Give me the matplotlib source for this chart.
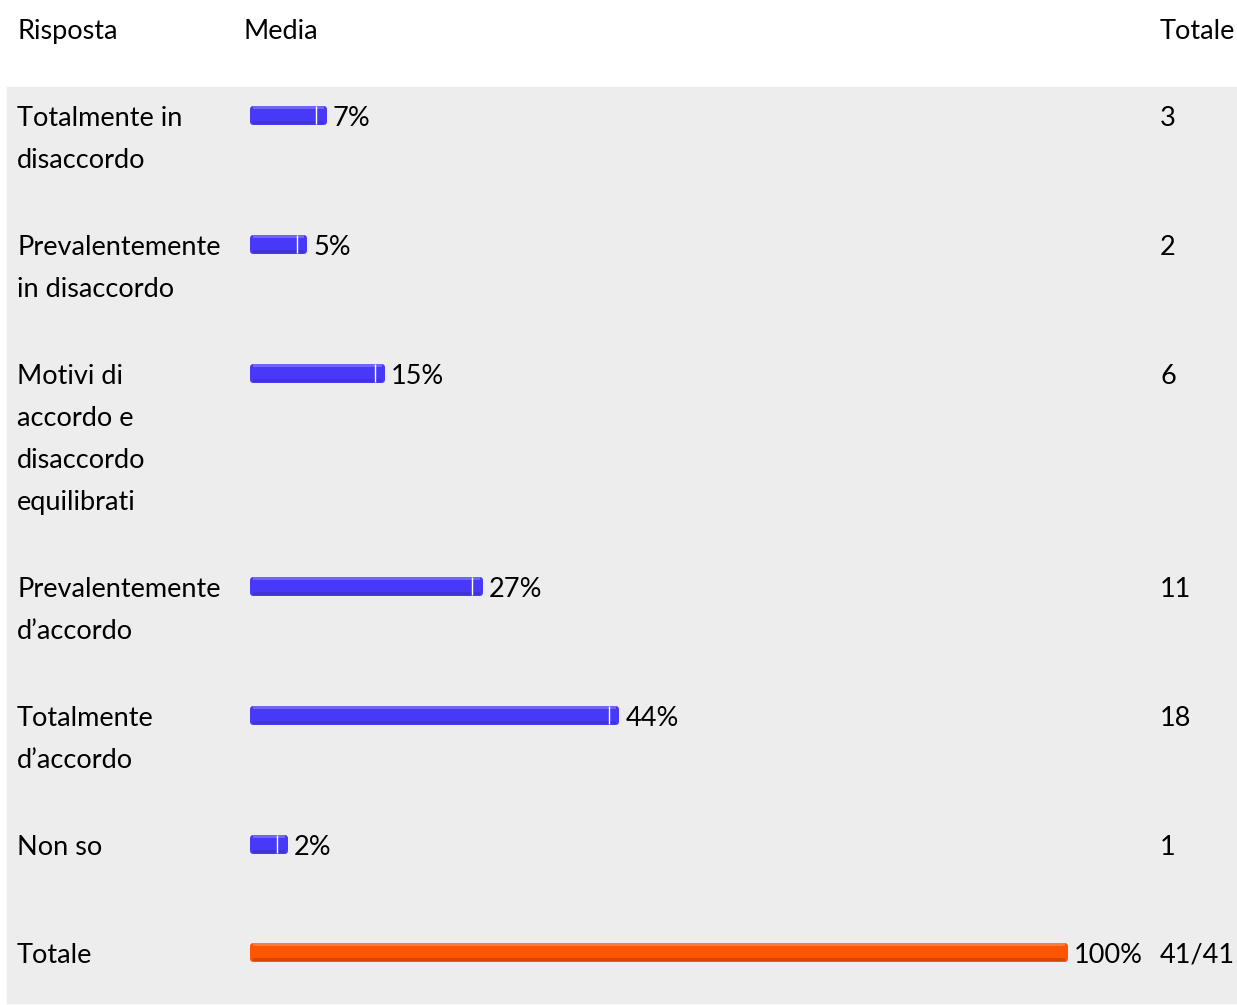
import matplotlib.pyplot as plt

labels = ["Totalmente in\ndisaccordo",
          "Prevalentemente\nin disaccordo",
          "Motivi di\naccordo e\ndisaccordo\nequilibrati",
          "Prevalentemente\nd\u2019accordo",
          "Totalmente\nd\u2019accordo",
          "Non so"]
counts = [3, 2, 6, 11, 18, 1]
pct_labels = ["7%", "5%", "15%", "27%", "44%", "2%"]
total_label = "Totale"
total_count = "41/41"
total_pct_label = "100%"

headers = ["Risposta", "Media", "Totale"]

n_total = sum(counts)
percents = [100.0 * c / n_total for c in counts]

W, H = 1237, 1005
BLUE = "#4838F8"
BLUE_HI = "#6E66F8"
BLUE_LO = "#3F35D6"
ORANGE = "#FF5500"
ORANGE_HI = "#FF7A3A"
ORANGE_LO = "#D64700"
BG = "#EDEDED"
FONT = "Lato"
FS = 19.5


def row_positions():
    # first-line y (pixels from top) for every row, from line counts
    ys = []
    y = 116
    for lab in labels:
        ys.append(y)
        y += 42 * len(lab.split("\n")) + 45
    ys.append(ys[-1] + 42 + 66)
    return ys


def main_function():
    fig = plt.figure(figsize=(W / 100, H / 100), dpi=100)
    base = fig.add_axes([0, 0, 1, 1])
    base.set_xlim(0, W)
    base.set_ylim(H, 0)
    base.axis("off")

    base.add_patch(plt.Rectangle((7, 87), W - 7, 916, color=BG, zorder=0))

    dy = 2
    for txt, x in zip(headers, [17, 244, 1160]):
        base.text(x, 29 + dy, txt, fontsize=FS, family=FONT, va="center", ha="left")

    ys = row_positions()
    all_labels = labels + [total_label]
    all_counts = [str(c) for c in counts] + [total_count]
    for y, lab, cnt in zip(ys, all_labels, all_counts):
        for i, line in enumerate(lab.split("\n")):
            base.text(17, y + 42 * i + dy, line, fontsize=FS, family=FONT, va="center", ha="left")
        base.text(1160, y + dy, cnt, fontsize=FS, family=FONT, va="center", ha="left")

    # bar axes: x in percent, y in the same pixel rows
    ax = fig.add_axes([265 / W, 0, 800 / W, 1])
    ax.set_xlim(0, 100)
    ax.set_ylim(H, 0)
    ax.axis("off")
    ax.patch.set_alpha(0)

    cap = 1.5
    bar_y = [y - 1 for y in ys]
    vals = percents + [100.0]
    colors = [BLUE] * len(percents) + [ORANGE]
    his = [BLUE_HI] * len(percents) + [ORANGE_HI]
    los = [BLUE_LO] * len(percents) + [ORANGE_LO]
    widths = [v + cap for v in vals]
    bars = ax.barh(bar_y, widths, left=-cap, height=13,
                   color=colors, edgecolor=colors, linewidth=4.3)
    for b in bars:
        b.set_joinstyle("round")
        b.set_clip_on(False)
    # light top and darker bottom shading
    tops = ax.barh([y - 7.5 for y in bar_y], widths, left=-cap, height=2.5,
                   color=his, linewidth=0)
    bots = ax.barh([y + 7.5 for y in bar_y], widths, left=-cap, height=3,
                   color=los, linewidth=0)
    for b in list(tops) + list(bots):
        b.set_clip_on(False)

    # white separator near the end of the blue bars
    for y, v in zip(bar_y[:-1], percents):
        ax.vlines(v - 0.9, y - 9, y + 9, color="white", linewidth=1.0, zorder=3)

    pct_texts = pct_labels + [total_pct_label]
    for y, v, t in zip(ys, vals, pct_texts):
        ax.annotate(t, (v, y + dy), xytext=(6.5, 0), textcoords="offset points",
                    fontsize=FS, family=FONT, va="center", ha="left")

    plt.savefig("out.png", dpi=100)


if __name__ == '__main__':
    main_function()
